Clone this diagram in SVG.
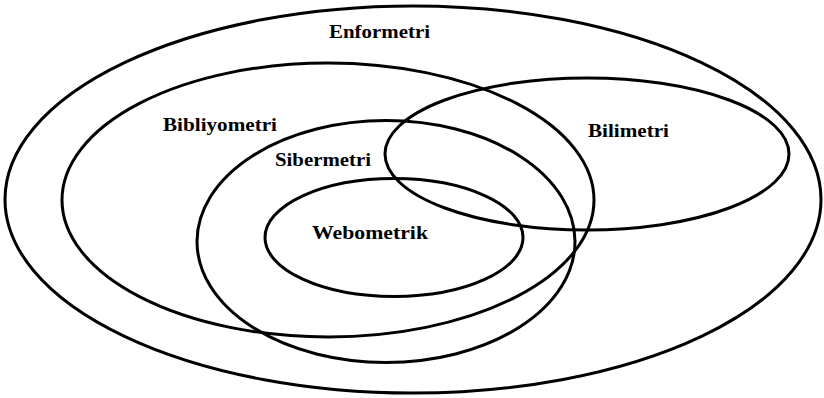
<svg xmlns="http://www.w3.org/2000/svg" width="824" height="398" viewBox="0 0 824 398">
<style>
.e{fill:none;stroke:#000;stroke-width:3}
.t{font-family:"Liberation Serif","Times New Roman",serif;font-weight:bold;font-size:19px;fill:#000}
</style>
<rect width="824" height="398" fill="#fff"/>
<g id="enformetri"><ellipse class="e" cx="413" cy="199.5" rx="408" ry="193.5"/><text class="t" x="329" y="38" textLength="101" lengthAdjust="spacingAndGlyphs">Enformetri</text></g>
<g id="bibliyometri"><ellipse class="e" cx="328" cy="200" rx="266" ry="137"/><text class="t" x="163" y="131" textLength="114" lengthAdjust="spacingAndGlyphs">Bibliyometri</text></g>
<g id="sibermetri"><ellipse class="e" cx="386" cy="241.5" rx="189" ry="121"/><text class="t" x="275" y="166" textLength="96" lengthAdjust="spacingAndGlyphs">Sibermetri</text></g>
<g id="bilimetri"><ellipse class="e" cx="587" cy="154" rx="202" ry="76"/><text class="t" x="588" y="137" textLength="81" lengthAdjust="spacingAndGlyphs">Bilimetri</text></g>
<g id="webometrik"><ellipse class="e" cx="394" cy="237.5" rx="129" ry="59"/><text class="t" x="312" y="239" textLength="116" lengthAdjust="spacingAndGlyphs">Webometrik</text></g>
<g id="connectors"></g>
</svg>
